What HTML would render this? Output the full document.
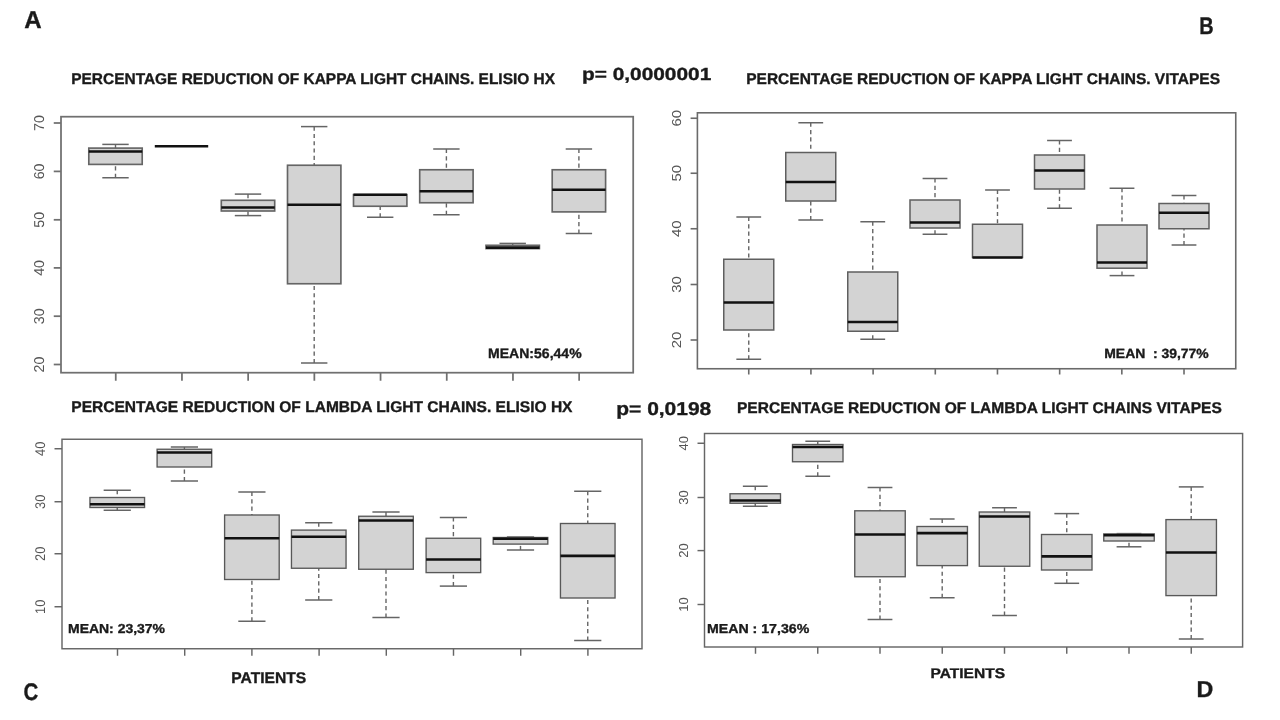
<!DOCTYPE html><html><head><meta charset="utf-8"><style>html,body{margin:0;padding:0;background:#fff;}svg{display:block;filter:blur(0.35px);}text{font-family:"Liberation Sans",sans-serif;text-rendering:geometricPrecision;}</style></head><body>
<svg width="1280" height="720" viewBox="0 0 1280 720">
<rect width="1280" height="720" fill="#fff"/>
<line x1="115.5" y1="144.4" x2="115.5" y2="148.1" stroke="#656565" stroke-width="1.4" stroke-dasharray="4.1 3.2"/>
<line x1="102.3" y1="144.4" x2="128.7" y2="144.4" stroke="#656565" stroke-width="1.5"/>
<line x1="115.5" y1="177.75" x2="115.5" y2="164.4" stroke="#656565" stroke-width="1.4" stroke-dasharray="4.1 3.2"/>
<line x1="102.3" y1="177.75" x2="128.7" y2="177.75" stroke="#656565" stroke-width="1.5"/>
<rect x="88.8" y="148.1" width="53.4" height="16.3" fill="#d3d3d3" stroke="#656565" stroke-width="1.65"/>
<line x1="88.8" y1="151.5" x2="142.2" y2="151.5" stroke="#111" stroke-width="2.6"/>
<line x1="154.8" y1="146.3" x2="208.2" y2="146.3" stroke="#111" stroke-width="2.6"/>
<line x1="248" y1="194.1" x2="248" y2="200.3" stroke="#656565" stroke-width="1.4" stroke-dasharray="4.1 3.2"/>
<line x1="234.8" y1="194.1" x2="261.2" y2="194.1" stroke="#656565" stroke-width="1.5"/>
<line x1="248" y1="215.6" x2="248" y2="211" stroke="#656565" stroke-width="1.4" stroke-dasharray="4.1 3.2"/>
<line x1="234.8" y1="215.6" x2="261.2" y2="215.6" stroke="#656565" stroke-width="1.5"/>
<rect x="221.3" y="200.3" width="53.4" height="10.7" fill="#d3d3d3" stroke="#656565" stroke-width="1.65"/>
<line x1="221.3" y1="207.5" x2="274.7" y2="207.5" stroke="#111" stroke-width="2.6"/>
<line x1="314.2" y1="126.6" x2="314.2" y2="165.25" stroke="#656565" stroke-width="1.4" stroke-dasharray="4.1 3.2"/>
<line x1="301" y1="126.6" x2="327.4" y2="126.6" stroke="#656565" stroke-width="1.5"/>
<line x1="314.2" y1="363" x2="314.2" y2="283.75" stroke="#656565" stroke-width="1.4" stroke-dasharray="4.1 3.2"/>
<line x1="301" y1="363" x2="327.4" y2="363" stroke="#656565" stroke-width="1.5"/>
<rect x="287.5" y="165.25" width="53.4" height="118.5" fill="#d3d3d3" stroke="#656565" stroke-width="1.65"/>
<line x1="287.5" y1="204.75" x2="340.9" y2="204.75" stroke="#111" stroke-width="2.6"/>
<line x1="380.2" y1="217.25" x2="380.2" y2="206.25" stroke="#656565" stroke-width="1.4" stroke-dasharray="4.1 3.2"/>
<line x1="367" y1="217.25" x2="393.4" y2="217.25" stroke="#656565" stroke-width="1.5"/>
<rect x="353.5" y="194.6" width="53.4" height="11.65" fill="#d3d3d3" stroke="#656565" stroke-width="1.65"/>
<line x1="353.5" y1="194.75" x2="406.9" y2="194.75" stroke="#111" stroke-width="2.6"/>
<line x1="446.4" y1="149" x2="446.4" y2="169.75" stroke="#656565" stroke-width="1.4" stroke-dasharray="4.1 3.2"/>
<line x1="433.2" y1="149" x2="459.6" y2="149" stroke="#656565" stroke-width="1.5"/>
<line x1="446.4" y1="214.75" x2="446.4" y2="202.75" stroke="#656565" stroke-width="1.4" stroke-dasharray="4.1 3.2"/>
<line x1="433.2" y1="214.75" x2="459.6" y2="214.75" stroke="#656565" stroke-width="1.5"/>
<rect x="419.7" y="169.75" width="53.4" height="33" fill="#d3d3d3" stroke="#656565" stroke-width="1.65"/>
<line x1="419.7" y1="191.25" x2="473.1" y2="191.25" stroke="#111" stroke-width="2.6"/>
<line x1="512.7" y1="243.4" x2="512.7" y2="245.3" stroke="#656565" stroke-width="1.4" stroke-dasharray="4.1 3.2"/>
<line x1="499.5" y1="243.4" x2="525.9" y2="243.4" stroke="#656565" stroke-width="1.5"/>
<rect x="486" y="245.3" width="53.4" height="3.3" fill="#d3d3d3" stroke="#656565" stroke-width="1.65"/>
<line x1="486" y1="247.6" x2="539.4" y2="247.6" stroke="#111" stroke-width="2.6"/>
<line x1="578.9" y1="149" x2="578.9" y2="169.75" stroke="#656565" stroke-width="1.4" stroke-dasharray="4.1 3.2"/>
<line x1="565.7" y1="149" x2="592.1" y2="149" stroke="#656565" stroke-width="1.5"/>
<line x1="578.9" y1="233.5" x2="578.9" y2="211.9" stroke="#656565" stroke-width="1.4" stroke-dasharray="4.1 3.2"/>
<line x1="565.7" y1="233.5" x2="592.1" y2="233.5" stroke="#656565" stroke-width="1.5"/>
<rect x="552.2" y="169.75" width="53.4" height="42.15" fill="#d3d3d3" stroke="#656565" stroke-width="1.65"/>
<line x1="552.2" y1="189.75" x2="605.6" y2="189.75" stroke="#111" stroke-width="2.6"/>
<rect x="61" y="116.7" width="572.2" height="256" fill="none" stroke="#707070" stroke-width="1.75"/>
<line x1="53.75" y1="123" x2="61" y2="123" stroke="#707070" stroke-width="1.75"/>
<text transform="translate(44.1,123) rotate(-90)" text-anchor="middle" font-size="14.3" fill="#555">70</text>
<line x1="53.75" y1="171.4" x2="61" y2="171.4" stroke="#707070" stroke-width="1.75"/>
<text transform="translate(44.1,171.4) rotate(-90)" text-anchor="middle" font-size="14.3" fill="#555">60</text>
<line x1="53.75" y1="219.8" x2="61" y2="219.8" stroke="#707070" stroke-width="1.75"/>
<text transform="translate(44.1,219.8) rotate(-90)" text-anchor="middle" font-size="14.3" fill="#555">50</text>
<line x1="53.75" y1="267.9" x2="61" y2="267.9" stroke="#707070" stroke-width="1.75"/>
<text transform="translate(44.1,267.9) rotate(-90)" text-anchor="middle" font-size="14.3" fill="#555">40</text>
<line x1="53.75" y1="316.2" x2="61" y2="316.2" stroke="#707070" stroke-width="1.75"/>
<text transform="translate(44.1,316.2) rotate(-90)" text-anchor="middle" font-size="14.3" fill="#555">30</text>
<line x1="53.75" y1="364.5" x2="61" y2="364.5" stroke="#707070" stroke-width="1.75"/>
<text transform="translate(44.1,364.5) rotate(-90)" text-anchor="middle" font-size="14.3" fill="#555">20</text>
<line x1="115.75" y1="372.7" x2="115.75" y2="380.75" stroke="#707070" stroke-width="1.75"/>
<line x1="181.95" y1="372.7" x2="181.95" y2="380.75" stroke="#707070" stroke-width="1.75"/>
<line x1="248.15" y1="372.7" x2="248.15" y2="380.75" stroke="#707070" stroke-width="1.75"/>
<line x1="314.35" y1="372.7" x2="314.35" y2="380.75" stroke="#707070" stroke-width="1.75"/>
<line x1="380.55" y1="372.7" x2="380.55" y2="380.75" stroke="#707070" stroke-width="1.75"/>
<line x1="446.75" y1="372.7" x2="446.75" y2="380.75" stroke="#707070" stroke-width="1.75"/>
<line x1="512.95" y1="372.7" x2="512.95" y2="380.75" stroke="#707070" stroke-width="1.75"/>
<line x1="579.15" y1="372.7" x2="579.15" y2="380.75" stroke="#707070" stroke-width="1.75"/>
<line x1="748.75" y1="217" x2="748.75" y2="259.25" stroke="#656565" stroke-width="1.4" stroke-dasharray="4.1 3.2"/>
<line x1="736.35" y1="217" x2="761.15" y2="217" stroke="#656565" stroke-width="1.5"/>
<line x1="748.75" y1="359.25" x2="748.75" y2="330" stroke="#656565" stroke-width="1.4" stroke-dasharray="4.1 3.2"/>
<line x1="736.35" y1="359.25" x2="761.15" y2="359.25" stroke="#656565" stroke-width="1.5"/>
<rect x="723.75" y="259.25" width="50" height="70.75" fill="#d3d3d3" stroke="#5f5f5f" stroke-width="1.5"/>
<line x1="723.75" y1="302.5" x2="773.75" y2="302.5" stroke="#111" stroke-width="2.6"/>
<line x1="810.75" y1="122.75" x2="810.75" y2="152.5" stroke="#656565" stroke-width="1.4" stroke-dasharray="4.1 3.2"/>
<line x1="798.35" y1="122.75" x2="823.15" y2="122.75" stroke="#656565" stroke-width="1.5"/>
<line x1="810.75" y1="220" x2="810.75" y2="201" stroke="#656565" stroke-width="1.4" stroke-dasharray="4.1 3.2"/>
<line x1="798.35" y1="220" x2="823.15" y2="220" stroke="#656565" stroke-width="1.5"/>
<rect x="785.75" y="152.5" width="50" height="48.5" fill="#d3d3d3" stroke="#5f5f5f" stroke-width="1.5"/>
<line x1="785.75" y1="182" x2="835.75" y2="182" stroke="#111" stroke-width="2.6"/>
<line x1="872.75" y1="221.75" x2="872.75" y2="272" stroke="#656565" stroke-width="1.4" stroke-dasharray="4.1 3.2"/>
<line x1="860.35" y1="221.75" x2="885.15" y2="221.75" stroke="#656565" stroke-width="1.5"/>
<line x1="872.75" y1="339.25" x2="872.75" y2="331.25" stroke="#656565" stroke-width="1.4" stroke-dasharray="4.1 3.2"/>
<line x1="860.35" y1="339.25" x2="885.15" y2="339.25" stroke="#656565" stroke-width="1.5"/>
<rect x="847.75" y="272" width="50" height="59.25" fill="#d3d3d3" stroke="#5f5f5f" stroke-width="1.5"/>
<line x1="847.75" y1="322" x2="897.75" y2="322" stroke="#111" stroke-width="2.6"/>
<line x1="935" y1="178.5" x2="935" y2="200" stroke="#656565" stroke-width="1.4" stroke-dasharray="4.1 3.2"/>
<line x1="922.6" y1="178.5" x2="947.4" y2="178.5" stroke="#656565" stroke-width="1.5"/>
<line x1="935" y1="234.25" x2="935" y2="228" stroke="#656565" stroke-width="1.4" stroke-dasharray="4.1 3.2"/>
<line x1="922.6" y1="234.25" x2="947.4" y2="234.25" stroke="#656565" stroke-width="1.5"/>
<rect x="910" y="200" width="50" height="28" fill="#d3d3d3" stroke="#5f5f5f" stroke-width="1.5"/>
<line x1="910" y1="222.5" x2="960" y2="222.5" stroke="#111" stroke-width="2.6"/>
<line x1="997.5" y1="190" x2="997.5" y2="224.25" stroke="#656565" stroke-width="1.4" stroke-dasharray="4.1 3.2"/>
<line x1="985.1" y1="190" x2="1009.9" y2="190" stroke="#656565" stroke-width="1.5"/>
<rect x="972.5" y="224.25" width="50" height="33.25" fill="#d3d3d3" stroke="#5f5f5f" stroke-width="1.5"/>
<line x1="972.5" y1="257.5" x2="1022.5" y2="257.5" stroke="#111" stroke-width="2.6"/>
<line x1="1059.5" y1="140.5" x2="1059.5" y2="155" stroke="#656565" stroke-width="1.4" stroke-dasharray="4.1 3.2"/>
<line x1="1047.1" y1="140.5" x2="1071.9" y2="140.5" stroke="#656565" stroke-width="1.5"/>
<line x1="1059.5" y1="208.25" x2="1059.5" y2="189" stroke="#656565" stroke-width="1.4" stroke-dasharray="4.1 3.2"/>
<line x1="1047.1" y1="208.25" x2="1071.9" y2="208.25" stroke="#656565" stroke-width="1.5"/>
<rect x="1034.5" y="155" width="50" height="34" fill="#d3d3d3" stroke="#5f5f5f" stroke-width="1.5"/>
<line x1="1034.5" y1="170.5" x2="1084.5" y2="170.5" stroke="#111" stroke-width="2.6"/>
<line x1="1122" y1="188.25" x2="1122" y2="225" stroke="#656565" stroke-width="1.4" stroke-dasharray="4.1 3.2"/>
<line x1="1109.6" y1="188.25" x2="1134.4" y2="188.25" stroke="#656565" stroke-width="1.5"/>
<line x1="1122" y1="275.6" x2="1122" y2="268.2" stroke="#656565" stroke-width="1.4" stroke-dasharray="4.1 3.2"/>
<line x1="1109.6" y1="275.6" x2="1134.4" y2="275.6" stroke="#656565" stroke-width="1.5"/>
<rect x="1097" y="225" width="50" height="43.2" fill="#d3d3d3" stroke="#5f5f5f" stroke-width="1.5"/>
<line x1="1097" y1="262.5" x2="1147" y2="262.5" stroke="#111" stroke-width="2.6"/>
<line x1="1184" y1="195.5" x2="1184" y2="203.5" stroke="#656565" stroke-width="1.4" stroke-dasharray="4.1 3.2"/>
<line x1="1171.6" y1="195.5" x2="1196.4" y2="195.5" stroke="#656565" stroke-width="1.5"/>
<line x1="1184" y1="245" x2="1184" y2="228.75" stroke="#656565" stroke-width="1.4" stroke-dasharray="4.1 3.2"/>
<line x1="1171.6" y1="245" x2="1196.4" y2="245" stroke="#656565" stroke-width="1.5"/>
<rect x="1159" y="203.5" width="50" height="25.25" fill="#d3d3d3" stroke="#5f5f5f" stroke-width="1.5"/>
<line x1="1159" y1="212.75" x2="1209" y2="212.75" stroke="#111" stroke-width="2.6"/>
<rect x="697.4" y="112.8" width="538.35" height="255.95" fill="none" stroke="#6a6a6a" stroke-width="1.6"/>
<line x1="690.6" y1="118.25" x2="697.4" y2="118.25" stroke="#6a6a6a" stroke-width="1.6"/>
<text transform="translate(681.25,118.25) rotate(-90)" x="-8.3" font-size="13" fill="#555" textLength="16.6" lengthAdjust="spacingAndGlyphs">60</text>
<line x1="690.6" y1="173.25" x2="697.4" y2="173.25" stroke="#6a6a6a" stroke-width="1.6"/>
<text transform="translate(681.25,173.25) rotate(-90)" x="-8.3" font-size="13" fill="#555" textLength="16.6" lengthAdjust="spacingAndGlyphs">50</text>
<line x1="690.6" y1="228.75" x2="697.4" y2="228.75" stroke="#6a6a6a" stroke-width="1.6"/>
<text transform="translate(681.25,228.75) rotate(-90)" x="-8.3" font-size="13" fill="#555" textLength="16.6" lengthAdjust="spacingAndGlyphs">40</text>
<line x1="690.6" y1="284.5" x2="697.4" y2="284.5" stroke="#6a6a6a" stroke-width="1.6"/>
<text transform="translate(681.25,284.5) rotate(-90)" x="-8.3" font-size="13" fill="#555" textLength="16.6" lengthAdjust="spacingAndGlyphs">30</text>
<line x1="690.6" y1="340" x2="697.4" y2="340" stroke="#6a6a6a" stroke-width="1.6"/>
<text transform="translate(681.25,340) rotate(-90)" x="-8.3" font-size="13" fill="#555" textLength="16.6" lengthAdjust="spacingAndGlyphs">20</text>
<line x1="748.75" y1="368.75" x2="748.75" y2="374.5" stroke="#6a6a6a" stroke-width="1.6"/>
<line x1="810.93" y1="368.75" x2="810.93" y2="374.5" stroke="#6a6a6a" stroke-width="1.6"/>
<line x1="873.11" y1="368.75" x2="873.11" y2="374.5" stroke="#6a6a6a" stroke-width="1.6"/>
<line x1="935.29" y1="368.75" x2="935.29" y2="374.5" stroke="#6a6a6a" stroke-width="1.6"/>
<line x1="997.47" y1="368.75" x2="997.47" y2="374.5" stroke="#6a6a6a" stroke-width="1.6"/>
<line x1="1059.65" y1="368.75" x2="1059.65" y2="374.5" stroke="#6a6a6a" stroke-width="1.6"/>
<line x1="1121.83" y1="368.75" x2="1121.83" y2="374.5" stroke="#6a6a6a" stroke-width="1.6"/>
<line x1="1184.01" y1="368.75" x2="1184.01" y2="374.5" stroke="#6a6a6a" stroke-width="1.6"/>
<line x1="117.25" y1="490.25" x2="117.25" y2="497.5" stroke="#656565" stroke-width="1.4" stroke-dasharray="4.1 3.2"/>
<line x1="103.65" y1="490.25" x2="130.85" y2="490.25" stroke="#656565" stroke-width="1.5"/>
<line x1="117.25" y1="510.25" x2="117.25" y2="507.5" stroke="#656565" stroke-width="1.4" stroke-dasharray="4.1 3.2"/>
<line x1="103.65" y1="510.25" x2="130.85" y2="510.25" stroke="#656565" stroke-width="1.5"/>
<rect x="89.95" y="497.5" width="54.6" height="10" fill="#d3d3d3" stroke="#585858" stroke-width="1.35"/>
<line x1="89.95" y1="504.25" x2="144.55" y2="504.25" stroke="#111" stroke-width="2.6"/>
<line x1="184.4" y1="447" x2="184.4" y2="449.25" stroke="#656565" stroke-width="1.4" stroke-dasharray="4.1 3.2"/>
<line x1="170.8" y1="447" x2="198" y2="447" stroke="#656565" stroke-width="1.5"/>
<line x1="184.4" y1="481" x2="184.4" y2="467" stroke="#656565" stroke-width="1.4" stroke-dasharray="4.1 3.2"/>
<line x1="170.8" y1="481" x2="198" y2="481" stroke="#656565" stroke-width="1.5"/>
<rect x="157.1" y="449.25" width="54.6" height="17.75" fill="#d3d3d3" stroke="#585858" stroke-width="1.35"/>
<line x1="157.1" y1="452.5" x2="211.7" y2="452.5" stroke="#111" stroke-width="2.6"/>
<line x1="251.9" y1="492" x2="251.9" y2="515" stroke="#656565" stroke-width="1.4" stroke-dasharray="4.1 3.2"/>
<line x1="238.3" y1="492" x2="265.5" y2="492" stroke="#656565" stroke-width="1.5"/>
<line x1="251.9" y1="621.25" x2="251.9" y2="579.5" stroke="#656565" stroke-width="1.4" stroke-dasharray="4.1 3.2"/>
<line x1="238.3" y1="621.25" x2="265.5" y2="621.25" stroke="#656565" stroke-width="1.5"/>
<rect x="224.6" y="515" width="54.6" height="64.5" fill="#d3d3d3" stroke="#585858" stroke-width="1.35"/>
<line x1="224.6" y1="538.25" x2="279.2" y2="538.25" stroke="#111" stroke-width="2.6"/>
<line x1="318.75" y1="522.75" x2="318.75" y2="530.1" stroke="#656565" stroke-width="1.4" stroke-dasharray="4.1 3.2"/>
<line x1="305.15" y1="522.75" x2="332.35" y2="522.75" stroke="#656565" stroke-width="1.5"/>
<line x1="318.75" y1="600" x2="318.75" y2="568.25" stroke="#656565" stroke-width="1.4" stroke-dasharray="4.1 3.2"/>
<line x1="305.15" y1="600" x2="332.35" y2="600" stroke="#656565" stroke-width="1.5"/>
<rect x="291.45" y="530.1" width="54.6" height="38.15" fill="#d3d3d3" stroke="#585858" stroke-width="1.35"/>
<line x1="291.45" y1="536.75" x2="346.05" y2="536.75" stroke="#111" stroke-width="2.6"/>
<line x1="386" y1="512" x2="386" y2="516.25" stroke="#656565" stroke-width="1.4" stroke-dasharray="4.1 3.2"/>
<line x1="372.4" y1="512" x2="399.6" y2="512" stroke="#656565" stroke-width="1.5"/>
<line x1="386" y1="617.5" x2="386" y2="569.25" stroke="#656565" stroke-width="1.4" stroke-dasharray="4.1 3.2"/>
<line x1="372.4" y1="617.5" x2="399.6" y2="617.5" stroke="#656565" stroke-width="1.5"/>
<rect x="358.7" y="516.25" width="54.6" height="53" fill="#d3d3d3" stroke="#585858" stroke-width="1.35"/>
<line x1="358.7" y1="520.5" x2="413.3" y2="520.5" stroke="#111" stroke-width="2.6"/>
<line x1="453.4" y1="517.5" x2="453.4" y2="538.25" stroke="#656565" stroke-width="1.4" stroke-dasharray="4.1 3.2"/>
<line x1="439.8" y1="517.5" x2="467" y2="517.5" stroke="#656565" stroke-width="1.5"/>
<line x1="453.4" y1="586.1" x2="453.4" y2="572.6" stroke="#656565" stroke-width="1.4" stroke-dasharray="4.1 3.2"/>
<line x1="439.8" y1="586.1" x2="467" y2="586.1" stroke="#656565" stroke-width="1.5"/>
<rect x="426.1" y="538.25" width="54.6" height="34.35" fill="#d3d3d3" stroke="#585858" stroke-width="1.35"/>
<line x1="426.1" y1="559.5" x2="480.7" y2="559.5" stroke="#111" stroke-width="2.6"/>
<line x1="520.5" y1="537" x2="520.5" y2="537.5" stroke="#656565" stroke-width="1.4" stroke-dasharray="4.1 3.2"/>
<line x1="506.9" y1="537" x2="534.1" y2="537" stroke="#656565" stroke-width="1.5"/>
<line x1="520.5" y1="550" x2="520.5" y2="544.1" stroke="#656565" stroke-width="1.4" stroke-dasharray="4.1 3.2"/>
<line x1="506.9" y1="550" x2="534.1" y2="550" stroke="#656565" stroke-width="1.5"/>
<rect x="493.2" y="537.5" width="54.6" height="6.6" fill="#d3d3d3" stroke="#585858" stroke-width="1.35"/>
<line x1="493.2" y1="538.75" x2="547.8" y2="538.75" stroke="#111" stroke-width="2.6"/>
<line x1="587.75" y1="491.25" x2="587.75" y2="523.5" stroke="#656565" stroke-width="1.4" stroke-dasharray="4.1 3.2"/>
<line x1="574.15" y1="491.25" x2="601.35" y2="491.25" stroke="#656565" stroke-width="1.5"/>
<line x1="587.75" y1="640.5" x2="587.75" y2="598" stroke="#656565" stroke-width="1.4" stroke-dasharray="4.1 3.2"/>
<line x1="574.15" y1="640.5" x2="601.35" y2="640.5" stroke="#656565" stroke-width="1.5"/>
<rect x="560.45" y="523.5" width="54.6" height="74.5" fill="#d3d3d3" stroke="#585858" stroke-width="1.35"/>
<line x1="560.45" y1="555.9" x2="615.05" y2="555.9" stroke="#111" stroke-width="2.6"/>
<rect x="62" y="439.25" width="580" height="209.5" fill="none" stroke="#666" stroke-width="1.45"/>
<line x1="54.5" y1="448.75" x2="62" y2="448.75" stroke="#666" stroke-width="1.45"/>
<text transform="translate(44.9,448.75) rotate(-90)" x="-7.15" font-size="14" fill="#555" textLength="14.3" lengthAdjust="spacingAndGlyphs">40</text>
<line x1="54.5" y1="501.75" x2="62" y2="501.75" stroke="#666" stroke-width="1.45"/>
<text transform="translate(44.9,501.75) rotate(-90)" x="-7.15" font-size="14" fill="#555" textLength="14.3" lengthAdjust="spacingAndGlyphs">30</text>
<line x1="54.5" y1="553.75" x2="62" y2="553.75" stroke="#666" stroke-width="1.45"/>
<text transform="translate(44.9,553.75) rotate(-90)" x="-7.15" font-size="14" fill="#555" textLength="14.3" lengthAdjust="spacingAndGlyphs">20</text>
<line x1="54.5" y1="606.75" x2="62" y2="606.75" stroke="#666" stroke-width="1.45"/>
<text transform="translate(44.9,606.75) rotate(-90)" x="-7.15" font-size="14" fill="#555" textLength="14.3" lengthAdjust="spacingAndGlyphs">10</text>
<line x1="117.5" y1="648.75" x2="117.5" y2="655.75" stroke="#666" stroke-width="1.45"/>
<line x1="184.7" y1="648.75" x2="184.7" y2="655.75" stroke="#666" stroke-width="1.45"/>
<line x1="251.9" y1="648.75" x2="251.9" y2="655.75" stroke="#666" stroke-width="1.45"/>
<line x1="319.1" y1="648.75" x2="319.1" y2="655.75" stroke="#666" stroke-width="1.45"/>
<line x1="386.3" y1="648.75" x2="386.3" y2="655.75" stroke="#666" stroke-width="1.45"/>
<line x1="453.5" y1="648.75" x2="453.5" y2="655.75" stroke="#666" stroke-width="1.45"/>
<line x1="520.7" y1="648.75" x2="520.7" y2="655.75" stroke="#666" stroke-width="1.45"/>
<line x1="587.9" y1="648.75" x2="587.9" y2="655.75" stroke="#666" stroke-width="1.45"/>
<line x1="755.25" y1="486.25" x2="755.25" y2="493.75" stroke="#656565" stroke-width="1.4" stroke-dasharray="4.1 3.2"/>
<line x1="742.85" y1="486.25" x2="767.65" y2="486.25" stroke="#656565" stroke-width="1.5"/>
<line x1="755.25" y1="506.25" x2="755.25" y2="503.25" stroke="#656565" stroke-width="1.4" stroke-dasharray="4.1 3.2"/>
<line x1="742.85" y1="506.25" x2="767.65" y2="506.25" stroke="#656565" stroke-width="1.5"/>
<rect x="730" y="493.75" width="50.5" height="9.5" fill="#d3d3d3" stroke="#585858" stroke-width="1.35"/>
<line x1="730" y1="500.5" x2="780.5" y2="500.5" stroke="#111" stroke-width="2.6"/>
<line x1="817.75" y1="441.25" x2="817.75" y2="444.5" stroke="#656565" stroke-width="1.4" stroke-dasharray="4.1 3.2"/>
<line x1="805.35" y1="441.25" x2="830.15" y2="441.25" stroke="#656565" stroke-width="1.5"/>
<line x1="817.75" y1="476.25" x2="817.75" y2="461.75" stroke="#656565" stroke-width="1.4" stroke-dasharray="4.1 3.2"/>
<line x1="805.35" y1="476.25" x2="830.15" y2="476.25" stroke="#656565" stroke-width="1.5"/>
<rect x="792.5" y="444.5" width="50.5" height="17.25" fill="#d3d3d3" stroke="#585858" stroke-width="1.35"/>
<line x1="792.5" y1="447" x2="843" y2="447" stroke="#111" stroke-width="2.6"/>
<line x1="880" y1="487.5" x2="880" y2="510.8" stroke="#656565" stroke-width="1.4" stroke-dasharray="4.1 3.2"/>
<line x1="867.6" y1="487.5" x2="892.4" y2="487.5" stroke="#656565" stroke-width="1.5"/>
<line x1="880" y1="619.5" x2="880" y2="576.75" stroke="#656565" stroke-width="1.4" stroke-dasharray="4.1 3.2"/>
<line x1="867.6" y1="619.5" x2="892.4" y2="619.5" stroke="#656565" stroke-width="1.5"/>
<rect x="854.75" y="510.8" width="50.5" height="65.95" fill="#d3d3d3" stroke="#585858" stroke-width="1.35"/>
<line x1="854.75" y1="534.5" x2="905.25" y2="534.5" stroke="#111" stroke-width="2.6"/>
<line x1="942.2" y1="519" x2="942.2" y2="526.5" stroke="#656565" stroke-width="1.4" stroke-dasharray="4.1 3.2"/>
<line x1="929.8" y1="519" x2="954.6" y2="519" stroke="#656565" stroke-width="1.5"/>
<line x1="942.2" y1="597.75" x2="942.2" y2="565.6" stroke="#656565" stroke-width="1.4" stroke-dasharray="4.1 3.2"/>
<line x1="929.8" y1="597.75" x2="954.6" y2="597.75" stroke="#656565" stroke-width="1.5"/>
<rect x="916.95" y="526.5" width="50.5" height="39.1" fill="#d3d3d3" stroke="#585858" stroke-width="1.35"/>
<line x1="916.95" y1="533.1" x2="967.45" y2="533.1" stroke="#111" stroke-width="2.6"/>
<line x1="1004.5" y1="507.75" x2="1004.5" y2="512" stroke="#656565" stroke-width="1.4" stroke-dasharray="4.1 3.2"/>
<line x1="992.1" y1="507.75" x2="1016.9" y2="507.75" stroke="#656565" stroke-width="1.5"/>
<line x1="1004.5" y1="615.5" x2="1004.5" y2="566.25" stroke="#656565" stroke-width="1.4" stroke-dasharray="4.1 3.2"/>
<line x1="992.1" y1="615.5" x2="1016.9" y2="615.5" stroke="#656565" stroke-width="1.5"/>
<rect x="979.25" y="512" width="50.5" height="54.25" fill="#d3d3d3" stroke="#585858" stroke-width="1.35"/>
<line x1="979.25" y1="516.5" x2="1029.75" y2="516.5" stroke="#111" stroke-width="2.6"/>
<line x1="1066.75" y1="513.6" x2="1066.75" y2="534.5" stroke="#656565" stroke-width="1.4" stroke-dasharray="4.1 3.2"/>
<line x1="1054.35" y1="513.6" x2="1079.15" y2="513.6" stroke="#656565" stroke-width="1.5"/>
<line x1="1066.75" y1="583.3" x2="1066.75" y2="570" stroke="#656565" stroke-width="1.4" stroke-dasharray="4.1 3.2"/>
<line x1="1054.35" y1="583.3" x2="1079.15" y2="583.3" stroke="#656565" stroke-width="1.5"/>
<rect x="1041.5" y="534.5" width="50.5" height="35.5" fill="#d3d3d3" stroke="#585858" stroke-width="1.35"/>
<line x1="1041.5" y1="556.4" x2="1092" y2="556.4" stroke="#111" stroke-width="2.6"/>
<line x1="1129" y1="533.6" x2="1129" y2="533.9" stroke="#656565" stroke-width="1.4" stroke-dasharray="4.1 3.2"/>
<line x1="1116.6" y1="533.6" x2="1141.4" y2="533.6" stroke="#656565" stroke-width="1.5"/>
<line x1="1129" y1="546.8" x2="1129" y2="541" stroke="#656565" stroke-width="1.4" stroke-dasharray="4.1 3.2"/>
<line x1="1116.6" y1="546.8" x2="1141.4" y2="546.8" stroke="#656565" stroke-width="1.5"/>
<rect x="1103.75" y="533.9" width="50.5" height="7.1" fill="#d3d3d3" stroke="#585858" stroke-width="1.35"/>
<line x1="1103.75" y1="535.3" x2="1154.25" y2="535.3" stroke="#111" stroke-width="2.6"/>
<line x1="1191.2" y1="486.9" x2="1191.2" y2="519.6" stroke="#656565" stroke-width="1.4" stroke-dasharray="4.1 3.2"/>
<line x1="1178.8" y1="486.9" x2="1203.6" y2="486.9" stroke="#656565" stroke-width="1.5"/>
<line x1="1191.2" y1="639" x2="1191.2" y2="595.6" stroke="#656565" stroke-width="1.4" stroke-dasharray="4.1 3.2"/>
<line x1="1178.8" y1="639" x2="1203.6" y2="639" stroke="#656565" stroke-width="1.5"/>
<rect x="1165.95" y="519.6" width="50.5" height="76" fill="#d3d3d3" stroke="#585858" stroke-width="1.35"/>
<line x1="1165.95" y1="552.5" x2="1216.45" y2="552.5" stroke="#111" stroke-width="2.6"/>
<rect x="704.5" y="433.5" width="538.1" height="213.5" fill="none" stroke="#666" stroke-width="1.45"/>
<line x1="697.5" y1="443.25" x2="704.5" y2="443.25" stroke="#666" stroke-width="1.45"/>
<text transform="translate(688,443.25) rotate(-90)" text-anchor="middle" font-size="13" fill="#555">40</text>
<line x1="697.5" y1="497.5" x2="704.5" y2="497.5" stroke="#666" stroke-width="1.45"/>
<text transform="translate(688,497.5) rotate(-90)" text-anchor="middle" font-size="13" fill="#555">30</text>
<line x1="697.5" y1="550.6" x2="704.5" y2="550.6" stroke="#666" stroke-width="1.45"/>
<text transform="translate(688,550.6) rotate(-90)" text-anchor="middle" font-size="13" fill="#555">20</text>
<line x1="697.5" y1="604.5" x2="704.5" y2="604.5" stroke="#666" stroke-width="1.45"/>
<text transform="translate(688,604.5) rotate(-90)" text-anchor="middle" font-size="13" fill="#555">10</text>
<line x1="755.5" y1="647" x2="755.5" y2="653.75" stroke="#666" stroke-width="1.45"/>
<line x1="817.75" y1="647" x2="817.75" y2="653.75" stroke="#666" stroke-width="1.45"/>
<line x1="880" y1="647" x2="880" y2="653.75" stroke="#666" stroke-width="1.45"/>
<line x1="942.25" y1="647" x2="942.25" y2="653.75" stroke="#666" stroke-width="1.45"/>
<line x1="1004.5" y1="647" x2="1004.5" y2="653.75" stroke="#666" stroke-width="1.45"/>
<line x1="1066.75" y1="647" x2="1066.75" y2="653.75" stroke="#666" stroke-width="1.45"/>
<line x1="1129" y1="647" x2="1129" y2="653.75" stroke="#666" stroke-width="1.45"/>
<line x1="1191.25" y1="647" x2="1191.25" y2="653.75" stroke="#666" stroke-width="1.45"/>
<text x="24.2" y="28.4" font-size="24.5" font-weight="bold" fill="#1a1a1a" stroke="#1a1a1a" stroke-width="0.35" textLength="17.4" lengthAdjust="spacingAndGlyphs" xml:space="preserve">A</text>
<text x="1199.2" y="34" font-size="24" font-weight="bold" fill="#1a1a1a" stroke="#1a1a1a" stroke-width="0.35" textLength="14.4" lengthAdjust="spacingAndGlyphs" xml:space="preserve">B</text>
<text x="23.6" y="700" font-size="24" font-weight="bold" fill="#1a1a1a" stroke="#1a1a1a" stroke-width="0.35" textLength="14.8" lengthAdjust="spacingAndGlyphs" xml:space="preserve">C</text>
<text x="1196.6" y="697" font-size="23" font-weight="bold" fill="#1a1a1a" stroke="#1a1a1a" stroke-width="0.35" textLength="16.8" lengthAdjust="spacingAndGlyphs" xml:space="preserve">D</text>
<text x="71.25" y="83.5" font-size="15.5" font-weight="bold" fill="#1a1a1a" stroke="#1a1a1a" stroke-width="0.35" textLength="483.75" lengthAdjust="spacingAndGlyphs" xml:space="preserve">PERCENTAGE REDUCTION OF KAPPA LIGHT CHAINS. ELISIO HX</text>
<text x="582" y="80" font-size="17.5" font-weight="bold" fill="#1a1a1a" stroke="#1a1a1a" stroke-width="0.35" textLength="129.25" lengthAdjust="spacingAndGlyphs" xml:space="preserve">p= 0,0000001</text>
<text x="746.25" y="83.5" font-size="15.5" font-weight="bold" fill="#1a1a1a" stroke="#1a1a1a" stroke-width="0.35" textLength="473.75" lengthAdjust="spacingAndGlyphs" xml:space="preserve">PERCENTAGE REDUCTION OF KAPPA LIGHT CHAINS. VITAPES</text>
<text x="71.25" y="411.6" font-size="15.5" font-weight="bold" fill="#1a1a1a" stroke="#1a1a1a" stroke-width="0.35" textLength="501.25" lengthAdjust="spacingAndGlyphs" xml:space="preserve">PERCENTAGE REDUCTION OF LAMBDA LIGHT CHAINS. ELISIO HX</text>
<text x="616.25" y="415" font-size="18.5" font-weight="bold" fill="#1a1a1a" stroke="#1a1a1a" stroke-width="0.35" textLength="95" lengthAdjust="spacingAndGlyphs" xml:space="preserve">p= 0,0198</text>
<text x="737" y="412.5" font-size="15.5" font-weight="bold" fill="#1a1a1a" stroke="#1a1a1a" stroke-width="0.35" textLength="484.75" lengthAdjust="spacingAndGlyphs" xml:space="preserve">PERCENTAGE REDUCTION OF LAMBDA LIGHT CHAINS VITAPES</text>
<text x="488.1" y="358" font-size="13.7" font-weight="bold" fill="#1a1a1a" stroke="#1a1a1a" stroke-width="0.35" textLength="93.5" lengthAdjust="spacingAndGlyphs" xml:space="preserve">MEAN:56,44%</text>
<text x="1104.25" y="357.5" font-size="13.3" font-weight="bold" fill="#1a1a1a" stroke="#1a1a1a" stroke-width="0.35" textLength="104.5" lengthAdjust="spacingAndGlyphs" xml:space="preserve">MEAN  : 39,77%</text>
<text x="68" y="633.3" font-size="13" font-weight="bold" fill="#1a1a1a" stroke="#1a1a1a" stroke-width="0.35" textLength="97" lengthAdjust="spacingAndGlyphs" xml:space="preserve">MEAN: 23,37%</text>
<text x="707" y="633.25" font-size="13" font-weight="bold" fill="#1a1a1a" stroke="#1a1a1a" stroke-width="0.35" textLength="102.25" lengthAdjust="spacingAndGlyphs" xml:space="preserve">MEAN : 17,36%</text>
<text x="231.25" y="682.75" font-size="15.5" font-weight="bold" fill="#1a1a1a" stroke="#1a1a1a" stroke-width="0.35" textLength="75" lengthAdjust="spacingAndGlyphs" xml:space="preserve">PATIENTS</text>
<text x="930.5" y="677.5" font-size="14" font-weight="bold" fill="#1a1a1a" stroke="#1a1a1a" stroke-width="0.35" textLength="74.5" lengthAdjust="spacingAndGlyphs" xml:space="preserve">PATIENTS</text>
</svg></body></html>
